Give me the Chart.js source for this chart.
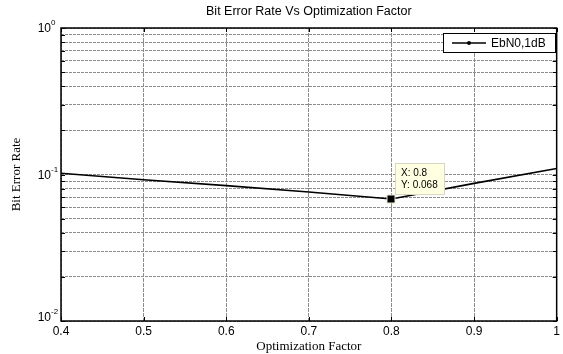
<!DOCTYPE html>
<html>
<head>
<meta charset="utf-8">
<script src="https://cdn.jsdelivr.net/npm/chart.js@4.4.0/dist/chart.umd.min.js"></script>
<style>
    html, body { margin: 0; padding: 0; background: #fff; }
</style>
</head>
<body>
<canvas id="berChart" width="563" height="354"></canvas>
<script>
// values
const optFactor = [0.4, 0.5, 0.6, 0.7, 0.8, 0.9, 1.0];
const berValues = [0.102, 0.092, 0.084, 0.076, 0.068, 0.087, 0.110];
const xTickValues = [0.4, 0.5, 0.6, 0.7, 0.8, 0.9, 1];
const yDecades = [0.01, 0.1, 1];
const yDecadeExp = ['-2', '-1', '0'];
const seriesLabel = 'EbN0,1dB';
const chartTitle = 'Bit Error Rate Vs Optimization Factor';
const tipIndex = 4;

const sansFont = '"Liberation Sans", Arial, sans-serif';
const serifFont = '"Liberation Serif", "Times New Roman", serif';

// log ticks: 1..9 x each decade
const yTickValues = [];
yDecades.forEach((d, i) => {
    if (i === yDecades.length - 1) {
        yTickValues.push(d);
        return;
    }
    for (let m = 1; m < 10; m++) {
        yTickValues.push(+(m * d).toPrecision(3));
    }
});

const matlabBox = {
    id: 'matlabBox',
    afterDraw(chart) {
        const {ctx, chartArea: a, scales: {x, y}} = chart;
        ctx.save();

        // title
        ctx.fillStyle = '#000';
        ctx.font = '12.5px ' + sansFont;
        ctx.textAlign = 'center';
        ctx.textBaseline = 'middle';
        ctx.fillText(chartTitle, (a.left + a.right) / 2, 12);

        // decade labels 10^n
        yDecades.forEach((v, i) => {
            let py = y.getPixelForValue(v);
            if (i === 0) py -= 4;
            ctx.textAlign = 'right';
            ctx.font = '12px ' + sansFont;
            ctx.fillText('10', 51, py + 1);
            ctx.textAlign = 'left';
            ctx.font = '8px ' + sansFont;
            ctx.fillText(yDecadeExp[i], 51, py - 5);
        });

        // inward tick marks
        ctx.strokeStyle = '#000';
        ctx.lineWidth = 1;
        ctx.beginPath();
        xTickValues.forEach((v) => {
            const px = Math.round(x.getPixelForValue(v)) + 0.5;
            ctx.moveTo(px, a.bottom);
            ctx.lineTo(px, a.bottom - 4);
            ctx.moveTo(px, a.top);
            ctx.lineTo(px, a.top + 4);
        });
        yTickValues.forEach((v) => {
            const py = Math.round(y.getPixelForValue(v)) + 0.5;
            ctx.moveTo(a.left, py);
            ctx.lineTo(a.left + 4, py);
            ctx.moveTo(a.right, py);
            ctx.lineTo(a.right - 4, py);
        });
        ctx.stroke();

        // axes box
        ctx.lineWidth = 1.5;
        ctx.strokeRect(a.left, a.top, a.right - a.left, a.bottom - a.top);

        // legend
        ctx.fillStyle = '#fff';
        ctx.fillRect(443.5, 33.5, 112, 19);
        ctx.lineWidth = 1;
        ctx.strokeRect(443.5, 33.5, 112, 19);
        ctx.lineWidth = 1.5;
        ctx.beginPath();
        ctx.moveTo(452, 43);
        ctx.lineTo(486, 43);
        ctx.stroke();
        ctx.fillStyle = '#000';
        ctx.beginPath();
        ctx.arc(469, 43, 2, 0, Math.PI * 2);
        ctx.fill();
        ctx.font = '12px ' + sansFont;
        ctx.textAlign = 'left';
        ctx.textBaseline = 'middle';
        ctx.fillText(seriesLabel, 491, 43.5);

        // data tip
        const pt = chart.getDatasetMeta(0).data[tipIndex];
        const px = Math.round(pt.x), py = Math.round(pt.y);
        ctx.fillStyle = '#ffffe1';
        ctx.fillRect(px + 4.5, py - 35.5, 49, 31);
        ctx.strokeStyle = '#d8d8c0';
        ctx.lineWidth = 1;
        ctx.strokeRect(px + 4.5, py - 35.5, 49, 31);
        ctx.fillStyle = '#000';
        ctx.font = '10px ' + sansFont;
        ctx.fillText('X: ' + optFactor[tipIndex], px + 10, py - 26);
        ctx.fillText('Y: ' + berValues[tipIndex], px + 10, py - 14);
        ctx.fillStyle = '#e8e8c8';
        ctx.fillRect(px - 4.5, py - 4.5, 9, 9);
        ctx.fillStyle = '#000';
        ctx.fillRect(px - 3.5, py - 3.5, 7, 7);

        ctx.restore();
    }
};

let chart = new Chart(document.getElementById('berChart'), {
    type: 'line',
    data: {
        datasets: [{
            label: seriesLabel,
            data: optFactor.map((v, i) => ({x: v, y: berValues[i]})),
            borderColor: '#000',
            backgroundColor: '#000',
            borderWidth: 1.6,
            pointRadius: 0,
            tension: 0,
            fill: false
        }]
    },
    options: {
        responsive: false,
        animation: false,
        devicePixelRatio: 1,
        layout: {
            padding: {top: 28, right: 4, left: 0, bottom: 0}
        },
        plugins: {
            legend: {display: false},
            tooltip: {enabled: false},
            title: {display: false}
        },
        scales: {
            x: {
                type: 'linear',
                min: 0.4,
                max: 1,
                afterBuildTicks: (scale) => {
                    scale.ticks = xTickValues.map((v) => ({value: v}));
                },
                afterFit: (scale) => {
                    scale.height = 33;
                },
                ticks: {
                    color: '#000',
                    padding: 3,
                    maxRotation: 0,
                    autoSkip: false,
                    font: {family: sansFont, size: 12},
                    callback: (value) => String(+value.toFixed(1))
                },
                grid: {
                    color: '#8c8c8c',
                    drawTicks: false
                },
                border: {display: false, dash: [4, 1]},
                title: {
                    display: true,
                    text: 'Optimization Factor',
                    color: '#000',
                    padding: {top: 0, bottom: 0},
                    font: {family: serifFont, size: 13}
                }
            },
            y: {
                type: 'logarithmic',
                min: 0.01,
                max: 1,
                afterBuildTicks: (scale) => {
                    scale.ticks = yTickValues.map((v) => ({value: v}));
                },
                afterFit: (scale) => {
                    scale.width = 61;
                },
                ticks: {
                    display: false,
                    autoSkip: false
                },
                grid: {
                    color: '#8c8c8c',
                    drawTicks: false
                },
                border: {display: false, dash: [3, 1]},
                title: {
                    display: true,
                    text: 'Bit Error Rate',
                    color: '#000',
                    padding: {top: 9, bottom: 0},
                    font: {family: serifFont, size: 13}
                }
            }
        }
    },
    plugins: [matlabBox]
});
</script>
</body>
</html>
